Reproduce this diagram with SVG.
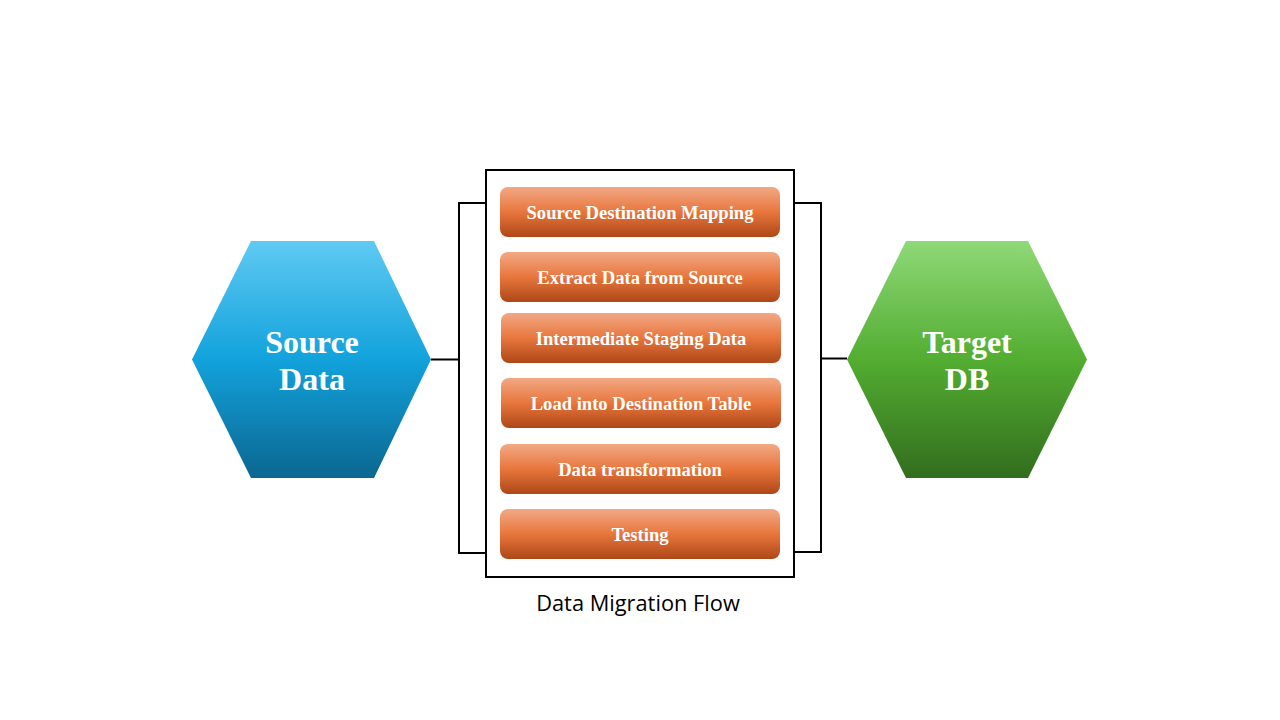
<svg xmlns="http://www.w3.org/2000/svg" width="1280" height="720" viewBox="0 0 1280 720">
  <defs>
    <linearGradient id="gBlue" x1="0" y1="0" x2="0" y2="1">
      <stop offset="0" stop-color="#5fcaf3"/>
      <stop offset="0.5" stop-color="#12a2dc"/>
      <stop offset="1" stop-color="#0b6790"/>
    </linearGradient>
    <linearGradient id="gGreen" x1="0" y1="0" x2="0" y2="1">
      <stop offset="0" stop-color="#8fd978"/>
      <stop offset="0.5" stop-color="#53ad31"/>
      <stop offset="1" stop-color="#326d1e"/>
    </linearGradient>
    <linearGradient id="gOrange" x1="0" y1="0" x2="0" y2="1">
      <stop offset="0" stop-color="#f1a985"/>
      <stop offset="0.5" stop-color="#e8763d"/>
      <stop offset="1" stop-color="#ae4717"/>
    </linearGradient>
  </defs>
  <style>
    .step { fill: url(#gOrange); }
    .stepText { font-family: "Liberation Serif", "Times New Roman", serif; font-weight: bold; font-size: 18.6px; fill: #ffffff; text-anchor: middle; }
    .hexText { font-family: "Liberation Serif", "Times New Roman", serif; font-weight: bold; font-size: 32px; fill: #ffffff; text-anchor: middle; }
    .conn { fill: none; stroke: #000000; stroke-width: 2; }
    .caption { font-family: "Open Sans", "Noto Sans", sans-serif; font-size: 21.8px; fill: #000000; text-anchor: middle; }
  </style>
  <rect width="1280" height="720" fill="#ffffff"/>

  <g id="connectors">
    <polyline class="conn" points="486,203 459,203 459,553 486,553"/>
    <line class="conn" x1="431" y1="359.5" x2="459" y2="359.5"/>
    <polyline class="conn" points="794,203 821,203 821,552 794,552"/>
    <line class="conn" x1="821" y1="358.5" x2="847" y2="358.5"/>
  </g>

  <g id="source-data">
    <polygon points="192,359.5 251,241 374,241 431,359.5 374,478 251,478" fill="url(#gBlue)"/>
    <text class="hexText" x="312" y="353">Source</text>
    <text class="hexText" x="312" y="390">Data</text>
  </g>

  <g id="target-db">
    <polygon points="847,359.5 906,241 1028,241 1087,359.5 1028,478 906,478" fill="url(#gGreen)"/>
    <text class="hexText" x="967" y="353">Target</text>
    <text class="hexText" x="967" y="390">DB</text>
  </g>

  <g id="migration-flow">
    <rect x="486" y="170" width="308" height="407" fill="#ffffff" stroke="#000000" stroke-width="2"/>
    <text class="caption" x="638" y="611">Data Migration Flow</text>
  </g>

  <g id="step-1">
    <rect class="step" x="500" y="187" width="280" height="50" rx="8"/>
    <text class="stepText" x="640" y="219">Source Destination Mapping</text>
  </g>
  <g id="step-2">
    <rect class="step" x="500" y="252" width="280" height="50" rx="8"/>
    <text class="stepText" x="640" y="284">Extract Data from Source</text>
  </g>
  <g id="step-3">
    <rect class="step" x="501" y="313" width="280" height="50" rx="8"/>
    <text class="stepText" x="641" y="345">Intermediate Staging Data</text>
  </g>
  <g id="step-4">
    <rect class="step" x="501" y="378" width="280" height="50" rx="8"/>
    <text class="stepText" x="641" y="410">Load into Destination Table</text>
  </g>
  <g id="step-5">
    <rect class="step" x="500" y="444" width="280" height="50" rx="8"/>
    <text class="stepText" x="640" y="476">Data transformation</text>
  </g>
  <g id="step-6">
    <rect class="step" x="500" y="509" width="280" height="50" rx="8"/>
    <text class="stepText" x="640" y="541">Testing</text>
  </g>
</svg>
